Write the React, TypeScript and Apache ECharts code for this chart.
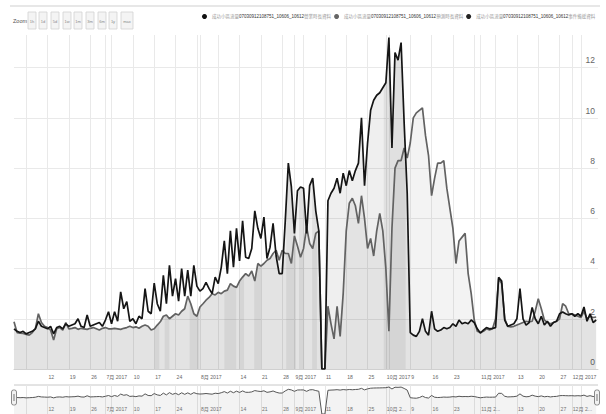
import React, { useEffect, useRef } from "react";
import * as echarts from "echarts";

// ---- data (x = days since 2017-06-01) ----
const seriesNames = [
  "成功小區流量07030912108751_10606_10612營業時長資料",
  "成功小區流量07030912108751_10606_10612預測時長資料",
  "成功小區流量07030912108751_10606_10612事件備援資料",
];

const blackValues = [
  1.6, 1.5, 1.45, 1.5, 1.4, 1.45, 1.5, 1.6, 1.9, 1.7,
  1.65, 1.6, 1.7, 1.4, 1.65, 1.7, 1.6, 1.8, 1.7, 1.75,
  1.8, 2.0, 1.7, 1.65, 2.15, 1.7, 1.75, 1.8, 1.85, 1.7,
  1.95, 2.28, 1.8, 2.28, 1.9, 3.07, 2.4, 2.68, 1.9, 2.0,
  1.8, 2.1, 2.0, 3.2, 2.3, 2.2, 3.42, 2.6, 2.3, 3.73,
  2.6, 4.13, 2.9, 3.6, 2.7, 4.0, 2.9, 3.94, 2.9, 4.13,
  3.3, 3.1, 3.2, 3.45, 3.2, 3.0, 3.66, 3.4, 4.05, 5.1,
  3.8, 5.5, 4.05, 5.6, 4.3, 5.9, 4.45, 4.4, 4.8, 6.3,
  5.6, 5.2, 6.05, 4.4, 4.85, 5.8, 4.5, 3.8, 3.8, 5.9,
  8.2, 7.25, 5.4, 7.1, 7.25, 7.2, 5.4, 7.3, 7.6, 6.3,
  5.5, 0, 0, 6.7, 7.0, 7.2, 7.6, 7.0, 7.8, 7.3,
  7.9, 7.5, 7.9, 8.2, 10.0, 7.3, 9.0, 10.3, 10.7, 10.9,
  11.0, 11.2, 11.4, 13.2, 8.8, 12.6, 12.3, 13.0, 9.8, 7.0,
  1.45, 1.35, 1.3, 1.5, 2.0, 1.5, 1.35, 2.3, 1.6, 1.5,
  1.55, 1.65, 1.6, 1.65, 1.8, 1.7, 1.95, 1.8, 1.85, 1.8,
  1.95, 1.85, 1.6, 1.43, 1.55, 1.65, 1.6, 1.62, 1.65, 3.65,
  3.5, 1.95, 1.7, 1.75, 1.8, 2.0, 3.2, 2.0, 1.75, 1.85,
  2.45, 2.0, 1.8, 2.1, 1.75, 1.9, 1.7, 1.85, 1.9, 2.2,
  2.27, 2.2, 2.15, 2.2, 2.1, 2.2, 2.1, 2.47, 1.9, 2.2,
  1.85, 1.95,
];

const grayValues = [
  1.88, 1.45, 1.43, 1.42, 1.38, 1.35, 1.45, 1.6, 2.2, 1.85,
  1.7, 1.65, 1.55, 1.15, 1.6, 1.65, 1.55, 1.85, 1.6, 1.62,
  1.65, 1.58, 1.62, 1.6, 1.58, 1.62, 1.65, 1.6, 1.55, 1.62,
  1.65, 1.6, 1.6, 1.62, 1.6, 1.58, 1.62, 1.65, 1.7, 1.65,
  1.68, 1.62, 1.7, 1.75, 1.7, 1.55, 1.6, 1.75, 1.88, 2.1,
  2.15, 2.0, 2.1, 2.2, 2.15, 2.3, 2.4, 2.9, 2.6, 2.2,
  2.1, 2.47, 2.6, 2.74, 2.85, 3.0, 2.95, 3.05, 3.0, 3.1,
  3.14, 3.4, 3.3, 3.25, 3.5, 3.66, 3.8, 3.7, 3.9, 3.5,
  4.2, 4.1, 4.2, 4.33, 4.4, 4.6, 4.73, 4.33, 4.73, 4.6,
  4.6, 4.2, 5.3, 4.9, 4.45, 4.8, 5.65, 5.0, 4.8, 5.4,
  5.5, 0, 0, 2.5, 1.8, 1.2, 2.5, 1.3, 3.0, 5.5,
  6.6, 6.8, 6.5, 5.8, 6.9, 6.0, 4.8, 5.2, 4.5, 5.5,
  6.2, 5.5, 4.0, 1.5, 5.6, 8.0, 8.3, 8.3, 8.8, 8.4,
  9.0, 10.0, 10.2, 10.3, 10.4, 9.3, 8.5, 6.9, 7.6, 8.2,
  8.2, 8.3, 7.2, 6.4, 5.6, 4.2, 5.1, 5.25, 5.4, 3.8,
  3.0, 1.95, 1.5, 1.45, 1.5, 1.6, 1.55, 1.6, 2.0, 3.6,
  3.4, 2.0, 1.7, 1.68, 1.7, 1.75, 1.8, 1.85, 1.9, 1.88,
  1.9, 2.3, 2.8, 2.4, 1.95, 1.85, 1.8, 1.85, 1.9, 2.0,
  2.6, 2.5, 2.2, 2.2, 2.15, 2.1, 2.05, 2.3, 2.0, 2.1,
  2.05, 2.07,
];

const fillValues = [
  1.6, 1.45, 1.43, 1.42, 1.38, 1.35, 1.45, 1.6, 1.9, 1.7,
  1.65, 1.6, 1.55, 1.15, 1.6, 1.65, 1.55, 1.8, 1.6, 1.62,
  1.65, 1.58, 1.62, 1.6, 1.58, 1.62, 1.65, 1.6, 1.55, 1.62,
  1.65, 1.6, 1.6, 1.62, 1.6, 1.58, 1.62, 1.65, 1.7, 1.65,
  1.68, 1.62, 1.7, 1.75, 1.7, 1.55, 1.6, 1.75, 1.88, 2.1,
  2.15, 2.0, 2.1, 2.2, 2.15, 2.3, 2.4, 2.9, 2.6, 2.2,
  2.1, 2.47, 2.6, 2.74, 2.85, 3.0, 2.95, 3.05, 3.0, 3.1,
  3.14, 3.4, 3.3, 3.25, 3.5, 3.66, 3.8, 3.7, 3.9, 3.5,
  4.2, 4.1, 4.2, 4.33, 4.4, 4.6, 4.5, 3.8, 3.8, 5.9,
  8.2, 7.25, 5.4, 7.1, 7.25, 7.2, 5.4, 7.3, 7.6, 6.3,
  5.5, 0, 0, 6.7, 7.0, 7.2, 7.6, 7.0, 7.8, 7.3,
  7.9, 7.5, 7.9, 8.2, 10.0, 7.3, 9.0, 10.3, 10.7, 10.9,
  11.0, 11.2, 11.4, 13.2, 8.8, 12.6, 12.3, 13.0, 9.8, 7.0,
  1.45, 1.35, 1.3, 1.5, 2.0, 1.5, 1.35, 2.3, 1.6, 1.5,
  1.55, 1.65, 1.6, 1.65, 1.8, 1.7, 1.95, 1.8, 1.85, 1.8,
  1.95, 1.85, 1.5, 1.43, 1.5, 1.6, 1.55, 1.6, 1.65, 3.6,
  3.4, 1.95, 1.7, 1.68, 1.7, 1.75, 1.8, 1.85, 1.75, 1.85,
  1.9, 2.0, 1.8, 2.1, 1.75, 1.85, 1.7, 1.85, 1.9, 2.0,
  2.27, 2.2, 2.15, 2.2, 2.1, 2.1, 2.05, 2.3, 1.9, 2.1,
  1.85, 1.95,
];

// darker stripes in the fill, [startDay, endDay]
const bandRanges = [
  [46.1, 47.7], [49.4, 51], [57.6, 60.8], [69, 72.9], [73.9, 75.5],
  [78.8, 81.1], [89.3, 92.5], [93.5, 95.2], [97.8, 99.4], [121.3, 128.5],
];

// weekly (Monday) and month-start ticks, in days since 2017-06-01
const tickDays = [
  4, 11, 18, 25, 30, 32, 39, 46, 53, 60, 61, 67, 74, 81, 88, 92, 95, 102, 109,
  116, 122, 123, 130, 137, 144, 151, 153, 158, 165, 172, 179, 183, 186,
];
const labelDays = [
  11, 18, 25, 30, 39, 46, 53, 61, 74, 81, 88, 92, 102, 109, 116, 122, 130, 137,
  144, 153, 165, 172, 179, 183,
];
const yTicks = [0, 2, 4, 6, 8, 10, 12];
const zoomButtons = ["1h", "1d", "5d", "1w", "1m", "3m", "6m", "1y", "max"];

const FONT = '"Liberation Sans", "Noto Sans CJK TC", sans-serif';
const X_MAX = 191.6;
const Y_MAX = 13.3;
const NAV_MIN = 0.05;
const NAV_MAX = 20;

function dayLabel(v: number): string {
  const d = new Date(2017, 5, 1 + Math.round(v));
  if (d.getDate() === 1) return `${d.getMonth() + 1}月 2017`;
  return String(d.getDate());
}

export default function App() {
  const ref = useRef<HTMLDivElement>(null);
  useEffect(() => {
    if (!ref.current) return;
    const chart = echarts.init(ref.current, undefined, { renderer: "svg" });
    const pairs = (arr: number[]) => arr.map((v, i) => [i, v]);
    const fAt = (x: number) => {
      const i = Math.max(0, Math.min(fillValues.length - 1, Math.floor(x)));
      const j = Math.min(fillValues.length - 1, i + 1);
      const t = x - i;
      return fillValues[i] + (fillValues[j] - fillValues[i]) * t;
    };

    const btnX = [28, 39, 51, 63, 74, 86, 98, 109, 121];
    const graphics: any[] = [
      { type: "line", shape: { x1: 10, y1: 6, x2: 600, y2: 6 }, style: { stroke: "#cfcfcf", lineWidth: 1 } },
      { type: "text", x: 13, y: 21, style: { text: "Zoom", fill: "#555", font: `5.5px ${FONT}`, verticalAlign: "middle" } },
    ];
    zoomButtons.forEach((b, i) => {
      const w = i === zoomButtons.length - 1 ? 12 : 8;
      graphics.push({
        type: "rect",
        shape: { x: btnX[i], y: 12, width: w, height: 17 },
        style: { fill: "#f4f4f4", stroke: "#d2d2d2", lineWidth: 0.8 },
      });
      graphics.push({
        type: "text",
        x: btnX[i] + w / 2,
        y: 21,
        style: { text: b, fill: "#888", font: `4px ${FONT}`, align: "center", verticalAlign: "middle" },
      });
    });
    // navigator outline + handles
    graphics.push({ type: "line", shape: { x1: 14, y1: 385, x2: 598, y2: 385 }, style: { stroke: "#c8c8c8", lineWidth: 1 } });
    [11.5, 594.5].forEach((hx) => {
      graphics.push({
        type: "rect",
        shape: { x: hx, y: 390, width: 5, height: 15, r: 2 },
        style: { fill: "#f2f2f2", stroke: "#8a8a8a", lineWidth: 1 },
        z: 100,
      });
      graphics.push({ type: "line", shape: { x1: hx + 2, y1: 394, x2: hx + 2, y2: 401 }, style: { stroke: "#8a8a8a", lineWidth: 0.6 }, z: 101 });
      graphics.push({ type: "line", shape: { x1: hx + 3, y1: 394, x2: hx + 3, y2: 401 }, style: { stroke: "#8a8a8a", lineWidth: 0.6 }, z: 101 });
    });

    const LEG_FS = 4.5;
    const legendRich = {
      c: { color: "#9a9a9a", fontSize: LEG_FS, fontFamily: FONT },
      n: { color: "#333", fontSize: LEG_FS, fontFamily: FONT },
    };

    chart.setOption({
      animation: false,
      backgroundColor: "#fff",
      textStyle: { fontFamily: FONT },
      legend: {
        data: [seriesNames[0], seriesNames[1], seriesNames[2]],
        top: 14,
        left: 202,
        width: 404,
        padding: 0,
        icon: "circle",
        itemWidth: 5,
        itemHeight: 5,
        itemGap: 3,
        formatter: (name: string) => {
          const m = name.match(/^(\D+)([\d_]+)(\D+)$/);
          if (!m) return name;
          return `{c|${m[1]}}{n|${m[2]}}{c|${m[3]}}`;
        },
        textStyle: { fontSize: LEG_FS, rich: legendRich },
      },
      graphic: graphics,
      grid: [
        { left: 14, right: 8, top: 35, height: 334 },
        { left: 14, right: 8, top: 385, height: 29 },
      ],
      xAxis: [
        {
          type: "value",
          gridIndex: 0,
          min: 0,
          max: X_MAX,
          axisLine: { show: true, lineStyle: { color: "#d0d0d0" } },
          axisTick: { show: false, customValues: tickDays },
          splitLine: { show: true, lineStyle: { color: "#e9e9e9", width: 1 } },
          axisLabel: {
            customValues: labelDays,
            formatter: dayLabel,
            align: "left",
            padding: [0, 0, 0, 1],
            fontSize: 5.1,
            color: "#666",
            margin: 5,
          },
        },
        {
          type: "value",
          gridIndex: 1,
          min: 0,
          max: X_MAX,
          axisLine: { show: false },
          axisTick: { show: false, customValues: tickDays },
          splitLine: { show: true, lineStyle: { color: "#e6e6e6", width: 1 } },
          axisLabel: {
            customValues: labelDays,
            formatter: dayLabel,
            inside: true,
            align: "left",
            padding: [0, 0, 0, 1],
            fontSize: 5.1,
            color: "#777",
            margin: 2,
            width: 22,
            overflow: "truncate",
            ellipsis: "...",
          },
        },
      ],
      yAxis: [
        {
          type: "value",
          gridIndex: 0,
          position: "right",
          min: 0,
          max: Y_MAX,
          axisLine: { show: false },
          axisTick: { show: false, customValues: yTicks },
          splitLine: { show: true, lineStyle: { color: "#e9e9e9" } },
          axisLabel: {
            customValues: yTicks,
            inside: true,
            margin: 3,
            fontSize: 8.5,
            color: "#666",
            verticalAlign: "bottom",
            padding: [0, 0, 3, 0],
          },
        },
        {
          type: "log",
          gridIndex: 1,
          min: NAV_MIN,
          max: NAV_MAX,
          show: false,
        },
      ],
      series: [
        {
          name: seriesNames[2],
          type: "line",
          xAxisIndex: 0,
          yAxisIndex: 0,
          data: pairs(fillValues),
          showSymbol: false,
          symbol: "none",
          itemStyle: { color: "#222" },
          lineStyle: { width: 0, opacity: 0 },
          areaStyle: { color: "rgba(0,0,0,0.09)" },
          z: 1,
        },
        {
          name: "bands",
          type: "custom",
          xAxisIndex: 0,
          yAxisIndex: 0,
          silent: true,
          clip: true,
          z: 2,
          data: bandRanges,
          encode: { x: [0, 1] },
          renderItem: (_p: any, api: any) => {
            const s = api.value(0);
            const e = api.value(1);
            const pts: number[][] = [api.coord([s, 0]), api.coord([s, fAt(s)])];
            for (let d = Math.ceil(s); d <= Math.floor(e); d++) pts.push(api.coord([d, fillValues[d]]));
            pts.push(api.coord([e, fAt(e)]));
            pts.push(api.coord([e, 0]));
            return { type: "polygon", shape: { points: pts }, style: { fill: "rgba(0,0,0,0.06)" } };
          },
        },
        {
          name: seriesNames[1],
          type: "line",
          xAxisIndex: 0,
          yAxisIndex: 0,
          data: pairs(grayValues),
          showSymbol: false,
          symbol: "none",
          itemStyle: { color: "#666" },
          lineStyle: { width: 1.7, color: "#626262" },
          areaStyle: { color: "rgba(0,0,0,0.065)" },
          z: 3,
        },
        {
          name: seriesNames[0],
          type: "line",
          xAxisIndex: 0,
          yAxisIndex: 0,
          data: pairs(blackValues),
          showSymbol: false,
          symbol: "none",
          itemStyle: { color: "#111" },
          lineStyle: { width: 1.7, color: "#151515" },
          z: 4,
        },
        {
          name: "navigator",
          type: "line",
          xAxisIndex: 1,
          yAxisIndex: 1,
          // zero values clamped to the log axis floor so the drop reaches the bottom
          data: blackValues.map((v, i) => [i, Math.max(v, NAV_MIN)]),
          showSymbol: false,
          symbol: "none",
          lineStyle: { width: 1, color: "#555" },
          areaStyle: { color: "rgba(0,0,0,0.07)", origin: "start" },
          z: 3,
        },
      ],
    });
    return () => chart.dispose();
  }, []);
  return (
    <div
      ref={ref}
      style={{ position: "fixed", left: 0, top: 0, width: 606, height: 414 }}
    />
  );
}
